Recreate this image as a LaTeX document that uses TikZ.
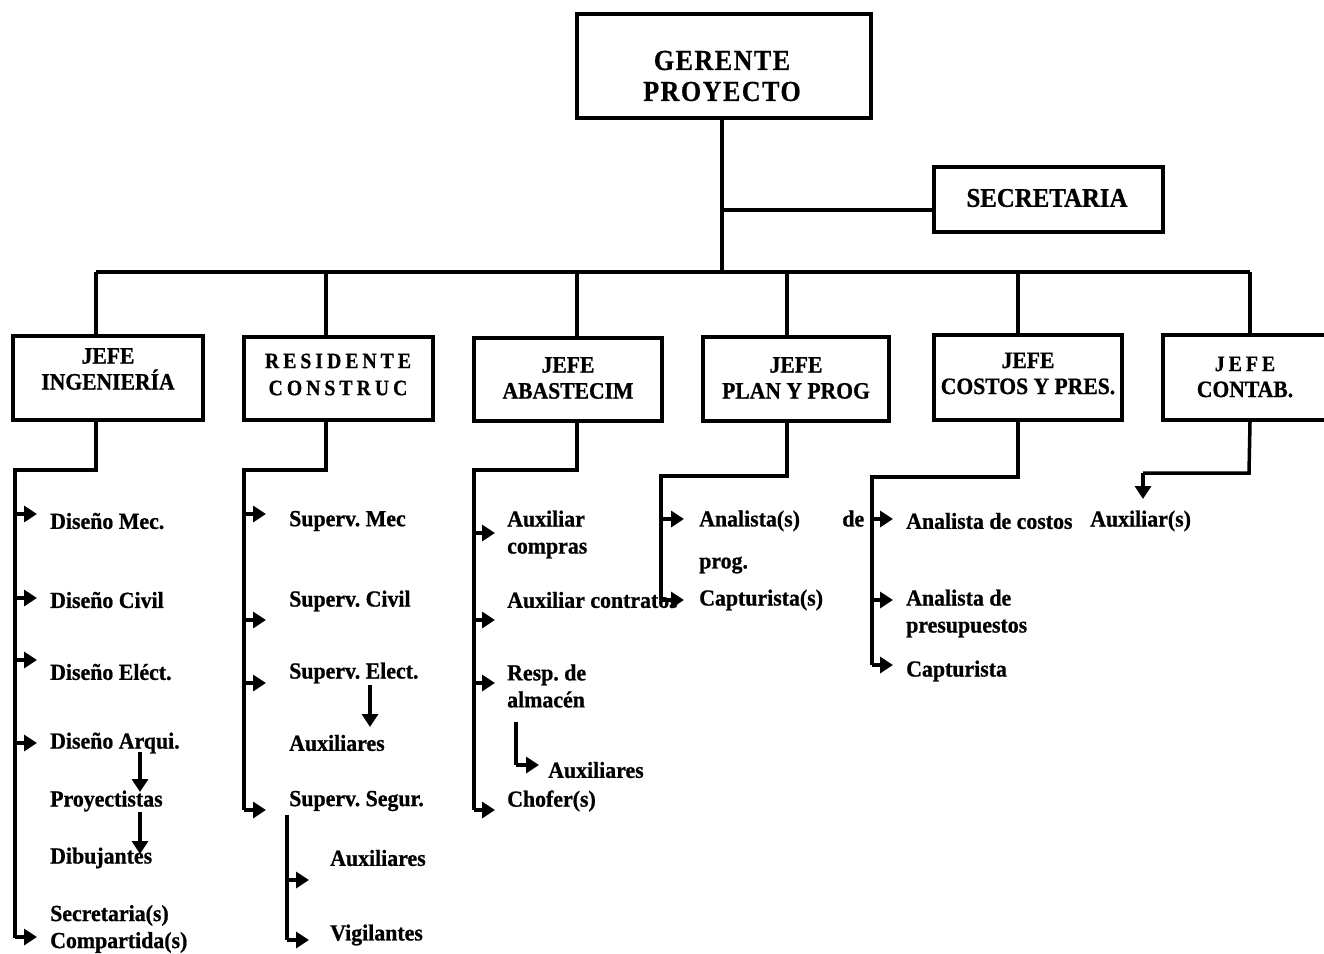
\documentclass[tikz,border=0pt]{standalone}
\usepackage{fontspec}
\setmainfont{Liberation Serif}
\newfontfamily\labfont{Liberation Serif Bold}[FakeStretch=0.95,FakeBold=0.8]
\newfontfamily\hdfont{Liberation Serif Bold}[FakeStretch=0.92,FakeBold=0.8]
\newfontfamily\widefont{Liberation Serif Bold}[FakeStretch=0.9,FakeBold=0.6,LetterSpace=18]
\frenchspacing
\usetikzlibrary{arrows.meta}
\begin{document}
\begin{tikzpicture}[x=1pt,y=-1pt,
  ln/.style={line width=3.5pt,line join=miter},
  box/.style={draw,line width=3.5pt,inner sep=0pt},
  hd/.style={font=\hdfont\fontsize{23.5}{26}\selectfont,align=center,inner sep=0pt},
  wide/.style={font=\widefont\fontsize{22}{27}\selectfont,align=center,inner sep=0pt},
  lab/.style={font=\labfont\fontsize{23}{27}\selectfont,align=left,anchor=west,inner sep=0pt},
  arr/.style={line width=3.5pt,-{Triangle[length=13pt,width=16pt]}},
  ]
\useasboundingbox (0,0) rectangle (1324,953);
\fill[white] (0,0) rectangle (1324,953);
\clip (0,0) rectangle (1324,953);

% top level
\node[box,minimum width=294pt,minimum height=104pt] (ger) at (724,66) {};
\node[font=\widefont\fontsize{29}{31}\selectfont\addfontfeature{LetterSpace=5},align=center,inner sep=0pt] (gerT) at (722,76) {GERENTE\\PROYECTO};
\node[box,minimum width=229pt,minimum height=65pt] (sec) at (1048.5,199.5) {};
\node[hd,font=\hdfont\fontsize{27}{26}\selectfont] (secT) at (1047,198) {SECRETARIA};

\coordinate (hub) at (722,272);
\coordinate (tj) at (722,210);
\draw[ln] (ger.south -| hub) -- (hub);
\draw[ln] (tj) -- (tj -| sec.west);

% second level boxes
\node[box,minimum width=190pt,minimum height=84pt] (ing) at (108,378) {};
\node[box,minimum width=189pt,minimum height=83pt] (res) at (338.5,378.5) {};
\node[box,minimum width=188pt,minimum height=83pt] (aba) at (568,379.5) {};
\node[box,minimum width=186pt,minimum height=84pt] (pla) at (796,379) {};
\node[box,minimum width=188pt,minimum height=85pt] (cos) at (1028,377.5) {};
\node[box,minimum width=170pt,minimum height=85pt] (con) at (1248,377.5) {};

\node[hd] (ingT) at (108,369) {JEFE\\INGENIERÍA};
\node[wide] (resT) at (338,374.5) {RESIDENTE\\CONSTRUC};
\node[hd] (abaT) at (568,378) {JEFE\\ABASTECIM};
\node[hd] (plaT) at (796,378) {JEFE\\PLAN Y PROG};
\node[hd] (cosT) at (1028,373.5) {JEFE\\COSTOS Y PRES.};
\node[hd] (conT) at (1245,377) {{\widefont\fontsize{22}{26}\selectfont JEFE}\\CONTAB.};

% bus
\coordinate (d1) at (96,272);
\coordinate (d2) at (326,272);
\coordinate (d3) at (577,272);
\coordinate (d4) at (787,272);
\coordinate (d5) at (1018,272);
\coordinate (d6) at (1250,272);
\draw[ln] (d1) -- (d6);
\draw[ln] (d1) -- (d1 |- ing.north);
\draw[ln] (d2) -- (d2 |- res.north);
\draw[ln] (d3) -- (d3 |- aba.north);
\draw[ln] (d4) -- (d4 |- pla.north);
\draw[ln] (d5) -- (d5 |- cos.north);
\draw[ln] (d6) -- (d6 |- con.north);

% ---- Ingenieria
\draw[ln] (d1 |- ing.south) -- (96,470) -- (15,470) -- (15,938);
\foreach \y in {514,598,660,743,937} \draw[arr] (15,\y) -- (37,\y);
\node[lab] (i1) at (50,521) {Diseño Mec.};
\node[lab] (i2) at (50,600) {Diseño Civil};
\node[lab] (i3) at (50,672) {Diseño Eléct.};
\node[lab] (i4) at (50,743) {Diseño Arqui.};
\node[lab] (i5) at (50,801) {Proyectistas};
\node[lab] (i6) at (50,858) {Dibujantes};
\node[lab] (i7) at (50,929) {Secretaria(s)\\Compartida(s)};
\draw[arr] (140,752) -- (140,792);
\draw[arr] (140,812) -- (140,854);

% ---- Residente
\draw[ln] (d2 |- res.south) -- (326,470) -- (244,470) -- (244,810);
\foreach \y in {514,620,683,810} \draw[arr] (244,\y) -- (266,\y);
\node[lab] (r1) at (289,521) {Superv. Mec};
\node[lab] (r2) at (289,601) {Superv. Civil};
\node[lab] (r3) at (289,673) {Superv. Elect.};
\node[lab] (r4) at (289,743) {Auxiliares};
\node[lab] (r5) at (289,801) {Superv. Segur.};
\draw[arr] (370,685) -- (370,727);
\draw[ln] (287,815) -- (287,940);
\foreach \y in {880,940} \draw[arr] (287,\y) -- (309,\y);
\node[lab] (r6) at (330,858) {Auxiliares};
\node[lab] (r7) at (330,935) {Vigilantes};

% ---- Abastecimiento
\draw[ln] (d3 |- aba.south) -- (577,470) -- (474,470) -- (474,810);
\foreach \y in {533,620,683,810} \draw[arr] (474,\y) -- (495,\y);
\node[lab] (a1) at (507,534.5) {Auxiliar\\compras};
\node[lab] (a2) at (507,600) {Auxiliar contratos};
\node[lab] (a3) at (507,686) {Resp. de\\almacén};
\node[lab] (a4) at (548,770) {Auxiliares};
\node[lab] (a5) at (507,801) {Chofer(s)};
\draw[ln] (516,722) -- (516,765);
\draw[arr] (516,765) -- (539,765);

% ---- Planeacion
\draw[ln] (d4 |- pla.south) -- (787,476) -- (661,476) -- (661,600);
\foreach \y in {519,600} \draw[arr] (661,\y) -- (684,\y);
\node[lab,text width=165pt,font=\labfont\fontsize{23}{42}\selectfont] (p1) at (699,542) {Analista(s)\hfill de\\prog.};
\node[lab] (p2) at (699,600) {Capturista(s)};

% ---- Costos
\draw[ln] (d5 |- cos.south) -- (1018,477) -- (872,477) -- (872,665);
\foreach \y in {519,600,665} \draw[arr] (872,\y) -- (893,\y);
\node[lab] (c1) at (906,521) {Analista de costos};
\node[lab] (c2) at (906,613.5) {Analista de\\presupuestos};
\node[lab] (c3) at (906,671) {Capturista};

% ---- Contabilidad
\draw[ln] (d6 |- con.south) -- (1249,473) -- (1143,473);
\draw[arr] (1143,473) -- (1143,499);
\node[lab] (k1) at (1090,521) {Auxiliar(s)};
\end{tikzpicture}
\end{document}
